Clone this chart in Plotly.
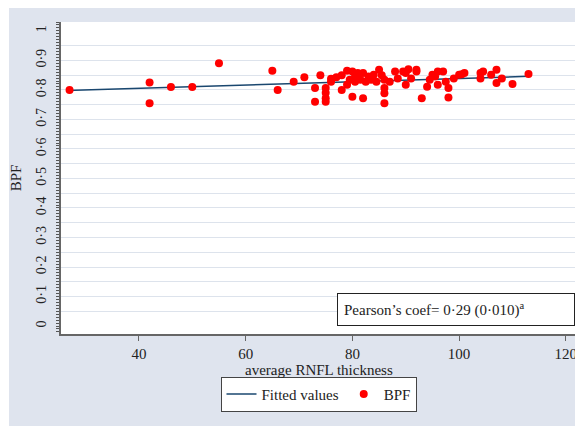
import plotly.graph_objects as go

# Data
rnfl = [27, 42, 42, 46, 50, 55, 65, 66, 69, 71, 73, 73, 74, 75, 75, 75, 75, 76, 76, 77,
        78, 78, 79, 79, 79.5, 80, 80, 80.5, 80.5, 81, 81.5, 82, 82, 82.5, 83, 83.5, 84,
        84.5, 85, 85.5, 86, 86, 86, 86, 87, 88, 88.5, 89.5, 90, 90, 90.5, 91, 92, 92, 93,
        94, 94.5, 95, 95.5, 96, 96, 97, 97.5, 98, 98, 99, 100, 100.5, 101, 104, 104,
        104.5, 106, 107, 107, 108, 110, 113]
bpf = [0.800, 0.825, 0.755, 0.810, 0.810, 0.890, 0.865, 0.800, 0.828, 0.843, 0.806, 0.760,
       0.850, 0.806, 0.790, 0.772, 0.760, 0.828, 0.838, 0.843, 0.800, 0.850, 0.865, 0.817,
       0.834, 0.862, 0.777, 0.828, 0.845, 0.857, 0.834, 0.857, 0.772, 0.828, 0.845, 0.834,
       0.851, 0.828, 0.868, 0.850, 0.834, 0.806, 0.789, 0.755, 0.828, 0.862, 0.839, 0.862,
       0.817, 0.857, 0.870, 0.839, 0.862, 0.868, 0.772, 0.811, 0.834, 0.851, 0.845, 0.817,
       0.862, 0.862, 0.828, 0.806, 0.774, 0.839, 0.851, 0.853, 0.857, 0.857, 0.839, 0.862,
       0.851, 0.868, 0.823, 0.839, 0.820, 0.854]
fit_x = [26.5, 113]
fit_y = [0.798, 0.846]

x_ticks = [40, 60, 80, 100, 120]
y_ticks = [0, 0.1, 0.2, 0.3, 0.4, 0.5, 0.6, 0.7, 0.8, 0.9, 1]
y_labels = ["0", "0·1", "0·2", "0·3", "0·4", "0·5", "0·6", "0·7", "0·8", "0·9", "1"]
grid_vals = [0.05, 0.1, 0.15, 0.2, 0.25, 0.3, 0.35, 0.4, 0.45, 0.5, 0.55, 0.6, 0.65,
             0.7, 0.75, 0.8, 0.85, 0.9, 0.95]

FONT = "Liberation Serif"
BG = "#dfe4ee"
GRID = "#dde3ec"
AX = "#666666"
TXT = "#222222"
yr = [-0.027, 1.03]

fig = go.Figure()
fig.add_trace(go.Scatter(x=fit_x, y=fit_y, mode="lines", name="Fitted values",
                         line=dict(color="#1a476f", width=1.5), yaxis="y"))
fig.add_trace(go.Scatter(x=rnfl, y=bpf, mode="markers", name="BPF",
                         marker=dict(color="#ff0000", size=8), yaxis="y2"))

fig.update_layout(
    width=575, height=418,
    margin=dict(l=53, r=7, t=14, b=92),
    paper_bgcolor=BG, plot_bgcolor="white",
    font=dict(family=FONT, size=15, color=TXT),
    xaxis=dict(range=[25.4, 121.9], tickvals=x_ticks, ticks="outside", ticklen=5,
               tickcolor=AX, showgrid=False, zeroline=False, showline=True,
               linecolor=AX, linewidth=1.5, automargin=False,
               tickfont=dict(size=15)),
    yaxis=dict(range=yr, tickvals=grid_vals, showticklabels=False, ticks="",
               showgrid=True, gridcolor=GRID, gridwidth=1, zeroline=False, showline=False,
               automargin=False),
    yaxis2=dict(range=yr, overlaying="y", side="left", anchor="x",
                tickvals=y_ticks, ticktext=y_labels, tickangle=-90, ticks="",
                ticklabelstandoff=8, tickfont=dict(size=14), automargin=False,
                minor=dict(tickmode="linear", tick0=0, dtick=0.01, ticks="outside",
                           ticklen=3, tickcolor="#555555", showgrid=False),
                showgrid=False, zeroline=False, showline=True, linecolor=AX, linewidth=1.5,
                title=dict(text="BPF", standoff=8, font=dict(size=15))),
    showlegend=True,
    legend=dict(orientation="h", x=0.5, xanchor="center", y=-0.137, yanchor="top",
                bgcolor="white", bordercolor="#444444", borderwidth=1,
                font=dict(size=15)),
    shapes=[
        dict(type="rect", xref="paper", yref="paper", x0=-0.2, x1=-0.101, y0=-0.4, y1=1.2,
             fillcolor="white", line=dict(width=0), layer="below"),
    ],
    annotations=[
        dict(text="average RNFL thickness", xref="paper", yref="paper", x=0.5, y=-0.1154,
             xanchor="center", yanchor="middle", showarrow=False,
             font=dict(size=15, color=TXT)),
        dict(text="Pearson’s coef= 0·29 (0·010)<sup>a</sup>", xref="paper", yref="paper",
             x=0.998, y=0.027, xanchor="right", yanchor="bottom", showarrow=False,
             bgcolor="white", bordercolor="#222222", borderwidth=1, borderpad=6,
             width=224, align="left", font=dict(size=15, color=TXT)),
    ],
)

fig.write_html("out.html")
